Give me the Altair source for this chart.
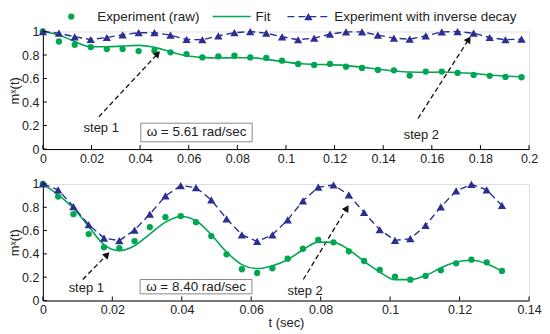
import math
import altair as alt
import pandas as pd

GREEN = "#00A651"
BLUE = "#2B2E93"
FONT = "Liberation Sans"
TXT = "#222222"

# ---------------- data: top panel (omega = 5.61 rad/sec) ----------------
top_t = [0, 0.0066, 0.0131, 0.0197, 0.0263, 0.0328, 0.0394, 0.0459, 0.0525, 0.0591,
         0.0656, 0.0722, 0.0788, 0.0853, 0.0919, 0.0984, 0.105, 0.1116, 0.1181, 0.1247,
         0.1313, 0.1378, 0.1444, 0.1509, 0.1575, 0.1641, 0.1706, 0.1772, 0.1838, 0.1903, 0.1969]
top_raw = [1.0, 0.915, 0.887, 0.868, 0.851, 0.851, 0.834, 0.837, 0.823, 0.808,
           0.78, 0.789, 0.794, 0.78, 0.775, 0.752, 0.724, 0.715, 0.724, 0.701,
           0.69, 0.673, 0.67, 0.625, 0.659, 0.659, 0.648, 0.631, 0.623, 0.614, 0.611]
top_fit = [1.0, 0.97, 0.915, 0.87, 0.87, 0.876, 0.882, 0.865, 0.828, 0.794,
           0.78, 0.775, 0.777, 0.777, 0.763, 0.745, 0.728, 0.72, 0.718, 0.71,
           0.697, 0.68, 0.665, 0.655, 0.653, 0.655, 0.652, 0.642, 0.63, 0.62, 0.615]
top_inv = [1.0, 0.986, 0.955, 0.932, 0.949, 0.972, 0.99, 0.99, 0.969, 0.932,
           0.93, 0.963, 0.99, 1.0, 0.986, 0.955, 0.93, 0.944, 0.977, 0.997,
           0.997, 0.969, 0.944, 0.935, 0.963, 0.997, 1.0, 0.986, 0.949, 0.93, 0.935]

# ---------------- data: bottom panel (omega = 8.40 rad/sec) ----------------
bot_t = [0, 0.0044, 0.0088, 0.0132, 0.0176, 0.022, 0.0264, 0.0308, 0.0353, 0.0397,
         0.0441, 0.0485, 0.0529, 0.0573, 0.0617, 0.0661, 0.0705, 0.0749, 0.0793, 0.0837,
         0.0881, 0.0925, 0.097, 0.1014, 0.1058, 0.1102, 0.1146, 0.119, 0.1234, 0.1278, 0.1322]
bot_raw = [1.0, 0.892, 0.741, 0.57, 0.456, 0.45, 0.51, 0.63, 0.715, 0.724,
           0.672, 0.553, 0.396, 0.268, 0.236, 0.276, 0.359, 0.444, 0.519, 0.499,
           0.422, 0.339, 0.262, 0.205, 0.179, 0.211, 0.259, 0.319, 0.35, 0.328, 0.254]
bot_fit = [1.0, 0.906, 0.792, 0.635, 0.479, 0.427, 0.47, 0.57, 0.672, 0.721,
           0.684, 0.564, 0.416, 0.308, 0.274, 0.299, 0.35, 0.436, 0.501, 0.499,
           0.436, 0.336, 0.245, 0.179, 0.179, 0.214, 0.279, 0.33, 0.345, 0.316, 0.251]
bot_inv = [1.0, 0.949, 0.806, 0.65, 0.536, 0.513, 0.604, 0.741, 0.897, 0.986,
           0.969, 0.863, 0.701, 0.564, 0.507, 0.564, 0.692, 0.855, 0.972, 0.991,
           0.906, 0.755, 0.607, 0.516, 0.53, 0.644, 0.803, 0.94, 0.997, 0.949, 0.815]

# ---------------- axes ----------------
top_xticks = [0, 0.02, 0.04, 0.06, 0.08, 0.1, 0.12, 0.14, 0.16, 0.18, 0.2]
bot_xticks = [0, 0.02, 0.04, 0.06, 0.08, 0.1, 0.12, 0.14]
yticks = [0, 0.2, 0.4, 0.6, 0.8, 1]

# ---------------- annotations ----------------
top_ann = {
    "omega": "ω = 5.61 rad/sec",
    "box": [0.0403, 0.0861, 0.062, 0.22],
    "box_text": [0.0632, 0.141],
    "arrows": [[0.023, 0.274, 0.0485, 0.839], [0.1543, 0.26, 0.1762, 0.966]],
    "labels": [["step 1", 0.024, 0.18], ["step 2", 0.1557, 0.119]],
}
bot_ann = {
    "omega": "ω = 8.40 rad/sec",
    "box": [0.028, 0.0602, 0.057, 0.18],
    "box_text": [0.0441, 0.118],
    "arrows": [[0.0115, 0.18, 0.0194, 0.421], [0.075, 0.18, 0.0882, 0.826]],
    "labels": [["step 1", 0.0125, 0.103], ["step 2", 0.0755, 0.085]],
}

W = 488


def panel(t, raw, fit, inv, xmax, xticks, H, ann, xtitle, legend):
    df = pd.DataFrame({"t": t, "raw": raw, "fit": fit, "inv": inv})
    xs = alt.Scale(domain=[0, xmax], nice=False, zero=False)
    ys = alt.Scale(domain=[0, 1], nice=False)
    xkw = dict(values=xticks, format="~g", ticks=False, grid=False, labelPadding=3,
               labelFontSize=12.5, labelFont=FONT, labelColor=TXT, labelOverlap=False,
               domainColor="#000", labelFlush=False)
    if xtitle:
        xkw.update(title=xtitle, titleFontSize=13, titleFont=FONT, titleFontWeight="normal",
                   titleColor=TXT, titlePadding=1)
    else:
        xkw.update(title="")
    xax = alt.Axis(**xkw)
    yax = alt.Axis(values=yticks, format="~g", ticks=False, grid=False, labelPadding=4,
                   labelFontSize=12.5, labelFont=FONT, labelColor=TXT, domainColor="#000",
                   labelOverlap=False, labelBound=False,
                   title="mˣ(t)", titleFontSize=13, titleFont=FONT, titleFontWeight="normal",
                   titleColor=TXT, titlePadding=0, labelFlush=False)

    def XX(f):
        return alt.X(f, scale=xs, axis=xax)

    def YY(f):
        return alt.Y(f, scale=ys, axis=yax)

    base = alt.Chart(df)
    raw_pts = base.mark_circle(color=GREEN, size=40, opacity=1).encode(
        x=XX("t:Q"), y=YY("raw:Q"))
    fit_line = base.mark_line(color=GREEN, strokeWidth=1.6, interpolate="monotone").encode(
        x=XX("t:Q"), y=YY("fit:Q"))
    inv_line = base.mark_line(color=BLUE, strokeWidth=1.4, strokeDash=[7, 4]).encode(
        x=XX("t:Q"), y=YY("inv:Q"))
    inv_pts = base.mark_point(shape="triangle-up", filled=True, color=BLUE, size=70,
                              opacity=1).encode(x=XX("t:Q"), y=YY("inv:Q"))

    # inside ticks
    xt = alt.Chart(pd.DataFrame({"v": xticks})).mark_rule(color="#000", strokeWidth=1).encode(
        x=XX("v:Q"), y=alt.value(H), y2=alt.value(H - 4))
    yt = alt.Chart(pd.DataFrame({"v": yticks})).mark_rule(color="#000", strokeWidth=1).encode(
        y=YY("v:Q"), x=alt.value(0), x2=alt.value(4))

    # annotation box
    b = ann["box"]
    box_df = pd.DataFrame({"x": [b[0]], "x2": [b[1]], "y": [b[2]], "y2": [b[3]],
                           "tx": [ann["box_text"][0]], "ty": [ann["box_text"][1]],
                           "txt": [ann["omega"]]})
    box = alt.Chart(box_df).mark_rect(fill="white", stroke="#8a8a8a", strokeWidth=1).encode(
        x=XX("x:Q"), x2="x2:Q", y=YY("y:Q"), y2="y2:Q")
    box_txt = alt.Chart(box_df).mark_text(font=FONT, fontSize=13.5, color=TXT).encode(
        x=XX("tx:Q"), y=YY("ty:Q"), text="txt:N")

    # arrows
    px_x = W / xmax
    px_y = H / 1.0
    rows, heads = [], []
    for x0, y0, x1, y1 in ann["arrows"]:
        sx = (x1 - x0) * px_x
        sy = -(y1 - y0) * px_y
        L = math.hypot(sx, sy)
        ang = math.degrees(math.atan2(sx, -sy)) % 360
        back = 4.5
        hx = x1 - (sx / L) * back / px_x
        hy = y1 + (sy / L) * back / px_y
        rows.append({"x": x0, "y": y0, "x2": hx, "y2": hy})
        heads.append({"x": hx, "y": hy, "ang": ang})
    arr = alt.Chart(pd.DataFrame(rows)).mark_rule(color="#111", strokeWidth=1.3,
                                                  strokeDash=[5, 3]).encode(
        x=XX("x:Q"), y=YY("y:Q"), x2="x2:Q", y2="y2:Q")
    hd = alt.Chart(pd.DataFrame(heads)).mark_point(shape="triangle-up", filled=True,
                                                   color="#111", size=60, opacity=1).encode(
        x=XX("x:Q"), y=YY("y:Q"), angle=alt.Angle("ang:Q", scale=None))
    lab_df = pd.DataFrame(ann["labels"], columns=["txt", "x", "y"])
    labs = alt.Chart(lab_df).mark_text(font=FONT, fontSize=13, color=TXT).encode(
        x=XX("x:Q"), y=YY("y:Q"), text="txt:N")

    layers = [raw_pts, box, box_txt, arr, hd, labs, fit_line, inv_line, inv_pts, xt, yt]

    if legend:
        one = alt.Chart(pd.DataFrame({"a": [0]}))
        LY = -15
        layers += [
            one.mark_circle(color=GREEN, size=40, opacity=1).encode(
                x=alt.value(28.5), y=alt.value(LY)),
            one.mark_text(text="Experiment (raw)", font=FONT, fontSize=13.5, color=TXT,
                          align="left").encode(x=alt.value(54.5), y=alt.value(LY)),
            one.mark_rule(color=GREEN, strokeWidth=1.6).encode(
                x=alt.value(170.5), x2=alt.value(208.5), y=alt.value(LY)),
            one.mark_text(text="Fit", font=FONT, fontSize=13.5, color=TXT,
                          align="left").encode(x=alt.value(213.5), y=alt.value(LY)),
            one.mark_rule(color=BLUE, strokeWidth=1.4, strokeDash=[7, 4]).encode(
                x=alt.value(245.5), x2=alt.value(288.5), y=alt.value(LY)),
            one.mark_point(shape="triangle-up", filled=True, color=BLUE, size=70,
                           opacity=1).encode(x=alt.value(266.5), y=alt.value(LY)),
            one.mark_text(text="Experiment with inverse decay", font=FONT, fontSize=13.5,
                          color=TXT, align="left").encode(x=alt.value(292.5), y=alt.value(LY)),
        ]
    return alt.layer(*layers).properties(width=W, height=H)


top = panel(top_t, top_raw, top_fit, top_inv, 0.2, top_xticks, 118, top_ann, None, True)
bot = panel(bot_t, bot_raw, bot_fit, bot_inv, 0.14, bot_xticks, 117, bot_ann, "t (sec)", False)

chart = alt.vconcat(top, bot, spacing=35, bounds="flush").properties(
    padding=0
).configure_view(stroke=None).configure_axis(labelOverlap=False).configure(font=FONT)

chart.save("out.html", embed_options={"renderer": "svg", "actions": False})
